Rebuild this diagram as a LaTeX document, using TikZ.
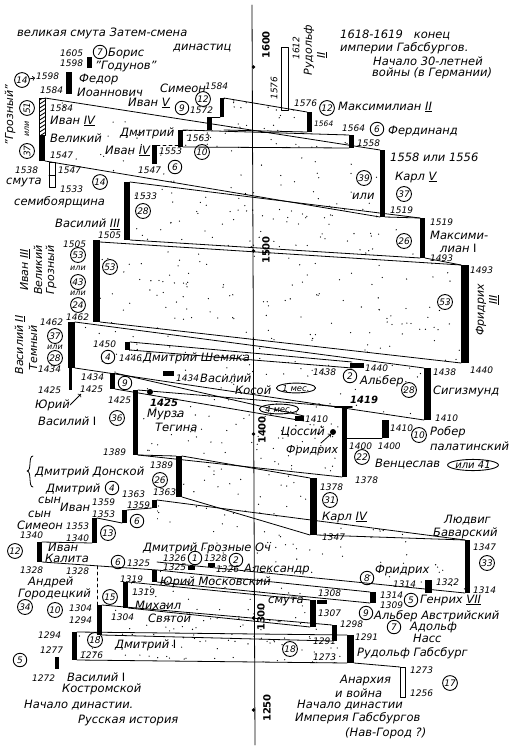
\documentclass[tikz,border=0pt]{standalone}
\usepackage{fontspec}
\setmainfont{DejaVu Sans}
\usetikzlibrary{shapes.geometric}

% band between a Russian reign (left) and a Habsburg reign (right), stippled
\newcommand{\band}[7]{%
  \draw[edge] (#1,#2) -- (#4,#5) (#1,#3) -- (#4,#6);
  \begin{scope}
    \clip (#1,#2) -- (#4,#5) -- (#4,#6) -- (#1,#3) -- cycle;
    \foreach \k in {1,...,#7}{
      \pgfmathsetmacro{\stx}{#1+rnd*(#4-#1)}
      \pgfmathsetmacro{\sty}{min(#2,#5)+rnd*(max(#3,#6)-min(#2,#5))}
      \fill (\stx,\sty) circle (0.65);
    }
  \end{scope}}

\tikzset{
  lbl/.style={anchor=west, inner sep=0pt, font=\fontsize{11.5}{11.5}\selectfont\itshape},
  yr/.style={anchor=west, inner sep=0pt, font=\fontsize{9}{9}\selectfont\itshape},
  num/.style={circle, draw, line width=0.9pt, inner sep=0.6pt, minimum size=13.5pt, font=\fontsize{9}{9}\selectfont\itshape},
  oval/.style={ellipse, draw, line width=0.9pt, inner sep=0.3pt, font=\fontsize{8.5}{8.5}\selectfont\itshape},
  edge/.style={line width=0.8pt},
  axisyr/.style={rotate=90, inner sep=0pt, font=\fontsize{10}{10}\selectfont\bfseries},
  vlbl/.style={rotate=90, inner sep=0pt, font=\fontsize{11}{11}\selectfont\itshape},
  small/.style={inner sep=0pt, font=\fontsize{8}{8}\selectfont\itshape},
}

\begin{document}
\begin{tikzpicture}[x=1pt, y=-1pt, line cap=round, line join=round]
\useasboundingbox (0,0) rectangle (514,750);
\pgfmathsetseed{17}

% time axis
\draw[line width=0.8pt] (252,5) -- (255,745);
\foreach \ty in {67,251,434,618,710} \fill (253.5,\ty) circle (1.8);
\node[axisyr] (y1600) at (266,45) {1600};
\node[axisyr] (y1500) at (266,250) {1500};
\node[axisyr] (y1400) at (262,430) {1400};
\node[axisyr] (y1300) at (261,617) {1300};
\node[axisyr] (y1250) at (267,708) {1250};

% ---------- bands ----------
\band{224}{98}{130}{307}{112}{132}{25}
\band{183}{130}{147}{349}{135}{148}{20}
\band{45}{98}{161}{380}{150}{217}{120}
\band{130}{182}{240}{420}{218}{258}{110}
\band{100}{242}{322}{461}{265}{363}{150}
\band{75}{322}{368}{424}{368}{420}{110}
\band{130}{342}{350}{352}{362}{368}{20}
\band{115}{373}{389}{304}{416}{421}{25}
\band{138}{390}{455}{342}{407}{477}{90}
\band{182}{456}{497}{310}{478}{535}{50}
\band{157}{500}{562}{465}{540}{593}{110}
\band{157}{570}{582}{370}{592}{603}{30}
\band{128}{582}{608}{310}{600}{627}{40}
\band{102}{605}{635}{332}{625}{641}{40}
\band{77}{632}{660}{347}{635}{663}{60}
\draw[edge] (354,663) -- (400,667);
\draw[edge] (317,535) -- (465,540);
\draw[edge] (42,562) -- (157,570);

% step connectors
\draw[edge] (212,117) -- (220,117);
\draw[edge, dashed] (183,130) -- (207,130);
\draw[edge, dashed] (157,145) -- (178,145);
\draw[edge] (127,510) -- (152,508);
\draw[edge] (97,518) -- (122,523);
\draw[edge] (42,542) -- (92,543);
\draw[edge] (138,455) -- (176,456);
\draw[edge, dashed] (97,566) -- (97,605);

% ---------- Russian bars ----------
\fill (87,57) rectangle (92,68);
\fill (66,72) rectangle (72,94);
\fill (220,98) rectangle (224,117);
\fill (207,117) rectangle (212,130);
\fill (178,130) rectangle (183,147);
\fill (152,145) rectangle (157,164);
\begin{scope}
  \clip (39,98) rectangle (45,135);
  \foreach \h in {96,100,...,136} \draw[line width=0.9pt] (38,\h+5) -- (46,\h);
\end{scope}
\draw[edge] (39,98) rectangle (45,135);
\fill (39,135) rectangle (45,161);
\draw[edge] (49,162) rectangle (55,187) (49,175) -- (55,175);
\fill (124,182) rectangle (130,240);
\fill (93,240) rectangle (100,322);
\fill (68,322) rectangle (75,368);
\fill (69,368) rectangle (72,390);
\fill (125,342) rectangle (130,350);
\fill (163,371) rectangle (174,376);
\fill (110,373) rectangle (115,389);
\fill (133,390) rectangle (138,455);
\fill (150,392) circle (3);
\fill (176,456) rectangle (182,497);
\fill (152,500) rectangle (157,508);
\fill (122,510) rectangle (127,523);
\fill (92,518) rectangle (97,543);
\fill (37,542) rectangle (42,562);
\fill (188,566) rectangle (195,570);
\fill (208,563) rectangle (215,567);
\fill (152,570) rectangle (157,582);
\fill (123,582) rectangle (128,608);
\fill (97,605) rectangle (102,635);
\fill (72,632) rectangle (77,660);
\fill (55,657) rectangle (59,669);

% ---------- Habsburg bars ----------
\draw[edge] (281,47) rectangle (288,110);
\fill (307,112) rectangle (312,132);
\fill (349,135) rectangle (354,148);
\fill (380,150) rectangle (385,217);
\draw[edge] (385,217) -- (420,218);
\fill (420,218) rectangle (425,258);
\draw[edge] (425,258) -- (461,265);
\fill (461,265) rectangle (469,363);
\fill (424,368) rectangle (431,420);
\fill (350,363) rectangle (364,368);
\fill (382,420) rectangle (389,438);
\draw[edge] (347,438) -- (382,438);
\fill (295,416) rectangle (304,421);
\draw[line width=1.8pt] (335,407) -- (352,407);
\fill (342,407) rectangle (347,477);
\fill (333,432) circle (3);
\fill (310,478) rectangle (317,535);
\fill (465,540) rectangle (470,593);
\fill (425,580) rectangle (432,593);
\fill (370,592) rectangle (376,603);
\fill (317,600) rectangle (327,604);
\fill (310,600) rectangle (316,627);
\fill (332,625) rectangle (337,641);
\fill (347,635) rectangle (354,663);
\draw[edge] (400,667) rectangle (405,697);

% ---------- Russian labels ----------
\node[lbl] (tsmuta) at (17,33) {великая смута Затем-смена};
\node[lbl] (tdyn) at (173,48) {династиц};
\node[yr] at (60,53) {1605};
\node[num] (n7a) at (100,52) {7};
\node[lbl] at (108,54) {Борис};
\node[lbl] at (95,67) {"Годунов"};
\node[yr] at (60,63) {1598};
\node[num] (n14a) at (22,80) {14};
\draw[->, edge] (n14a) -- (35,78);
\node[yr] at (36,76) {1598};
\node[yr] at (40,90) {1584};
\node[lbl] at (79,80) {Федор};
\node[lbl] at (77,92) {Иоаннович};
\node[lbl] at (160,88) {Симеон};
\node[yr] at (205,86) {1584};
\node[num] at (203,99) {12};
\node[lbl] at (128,103) {Иван \underline{V}};
\node[num] at (182,108) {9};
\node[yr] at (190,110) {1572};
\node[vlbl] at (10,115) {"Грозный"};
\node[num, rotate=90] at (27,108) {51};
\node[vlbl, font=\fontsize{8}{8}\selectfont\itshape] at (27,129) {или};
\node[num, rotate=90] at (27,151) {37};
\node[yr] at (50,108) {1584};
\node[lbl] at (50,121) {Иван \underline{IV}};
\node[lbl] at (50,138) {Великий};
\node[yr] at (50,155) {1547};
\node[lbl] at (120,133) {Дмитрий};
\node[yr] at (187,138) {1563};
\node[num] at (202,152) {10};
\node[lbl] at (105,151) {Иван \underline{IV}};
\node[yr] at (159,151) {1553};
\node[num] at (175,167) {6};
\node[yr] at (138,170) {1547};
\node[yr] at (15,170) {1538};
\node[lbl] at (6,182) {смута};
\node[yr] at (58,170) {1547};
\node[yr] at (60,189) {1533};
\node[num] at (100,182) {14};
\node[lbl] at (14,202) {семибоярщина};
\node[yr] at (134,196) {1533};
\node[num] at (143,211) {28};
\node[lbl] at (55,224) {Василий \underline{III}};
\node[yr] at (98,235) {1505};
\node[yr] at (63,244) {1505};
\node[vlbl] at (25,270) {Иван \underline{III}};
\node[vlbl] at (38,270) {Великий};
\node[vlbl] at (51,270) {Грозный};
\node[num] at (78,255) {53};
\node[small] at (78,268) {или};
\node[num] at (78,282) {43};
\node[small] at (78,293) {или};
\node[num] at (78,305) {24};
\node[yr] at (66,317) {1462};
\node[num] at (110,267) {53};
\node[yr] at (40,322) {1462};
\node[num] at (55,336) {37};
\node[small] at (55,347) {или};
\node[num] at (55,358) {28};
\node[yr] at (38,369) {1434};
\node[yr] at (38,390) {1425};
\node[vlbl] at (20,345) {Василий \underline{II}};
\node[vlbl] at (33,348) {Темный};
\node[yr] at (93,344) {1450};
\node[num] at (108,357) {4};
\node[yr] at (119,358) {1446};
\node[lbl] at (143,358) {Дмитрий Шемяка};
\node[yr] at (176,378) {1434};
\node[lbl] at (200,378) {Василий};
\node[lbl] at (235,390) {Косой};
\node[oval] at (296,388) {1 мес.};
\node[yr] at (81,377) {1434};
\node[yr] at (80,389) {1425};
\node[num] at (125,383) {9};
\node[lbl] (tyuri) at (35,405) {Юрий};
\draw[->, edge] (tyuri.east) -- (81,394);
\node[yr] at (108,400) {1425};
\node[num] at (117,418) {36};
\node[lbl] at (38,421) {Василий \textup{I}};
\node[yr] at (103,452) {1389};
\node[yr, font=\fontsize{10}{10}\selectfont\bfseries\itshape] at (150,403) {1425};
\node[lbl] at (147,414) {Мурза};
\node[lbl] at (155,427) {Тегина};
\node[yr] at (150,465) {1389};
\node[num] at (160,480) {26};
\node[yr] at (153,492) {1363};
\draw[edge] (33,456) .. controls (28,456) and (32,471) .. (27,471) .. controls (32,471) and (28,487) .. (33,487);
\node[lbl] at (35,472) {Дмитрий Донской};
\node[lbl] at (46,489) {Дмитрий};
\node[num] at (112,488) {4};
\node[yr] at (122,494) {1363};
\node[lbl] at (38,500) {сын};
\node[lbl] at (60,507) {Иван};
\node[yr] at (92,502) {1359};
\node[yr] at (127,505) {1359};
\node[yr] at (92,514) {1353};
\node[num] at (137,521) {6};
\node[lbl] at (28,514) {сын};
\node[lbl] at (17,525) {Симеон};
\node[yr] at (66,526) {1353};
\node[yr] at (66,538) {1340};
\node[num] at (108,533) {13};
\node[yr] at (20,535) {1340};
\node[num] at (15,551) {12};
\node[lbl] at (48,547) {Иван};
\node[lbl] at (45,558) {Калита};
\node[yr] at (20,570) {1328};
\node[yr] at (66,571) {1328};
\node[num] at (118,562) {6};
\node[yr] at (127,563) {1325};
\node[lbl] at (143,548) {Дмитрий Грозные Оч};
\node[yr] at (163,558) {1326};
\node[num] at (195,558) {1};
\node[yr] at (204,558) {1328};
\node[num] at (236,560) {2};
\node[yr] at (163,567) {1325};
\node[yr] at (216,569) {1326};
\node[lbl] at (244,569) {Александр};
\node[yr] at (120,579) {1319};
\node[lbl] at (160,582) {Юрий Московский};
\node[num] at (110,597) {15};
\node[yr] at (132,592) {1319};
\node[lbl] at (135,605) {Михаил};
\node[yr] at (111,617) {1304};
\node[lbl] at (148,618) {Святой};
\node[lbl] at (28,582) {Андрей};
\node[lbl] at (18,594) {Городецкий};
\node[num] at (25,607) {34};
\node[num] at (55,610) {10};
\node[yr] at (69,608) {1304};
\node[yr] at (69,620) {1294};
\node[yr] at (38,635) {1294};
\node[num] at (95,640) {18};
\node[lbl] at (115,645) {Дмитрий \textup{I}};
\node[yr] at (40,650) {1277};
\node[yr] at (80,655) {1276};
\node[num] at (20,660) {5};
\node[yr] at (32,678) {1272};
\node[lbl] at (67,677) {Василий \textup{I}};
\node[lbl] at (62,689) {Костромской};
\node[lbl] at (24,705) {Начало династии.};
\node[lbl] at (78,720) {Русская история};

% ---------- Habsburg labels ----------
\node[vlbl, font=\fontsize{9}{9}\selectfont\itshape] at (274,88) {1576};
\node[vlbl, font=\fontsize{9}{9}\selectfont\itshape] at (296,48) {1612};
\node[vlbl] at (309,50) {Рудольф};
\node[vlbl] at (322,55) {\underline{II}};
\node[lbl] at (340,35) {1618-1619 \ \ конец};
\node[lbl] at (340,48) {империи Габсбургов.};
\node[lbl] at (373,61) {Начало 30-летней};
\node[lbl] at (372,73) {войны (в Германии)};
\node[yr] at (294,103) {1576};
\node[num] at (327,108) {12};
\node[lbl] at (338,107) {Максимилиан \underline{II}};
\node[yr, font=\fontsize{7.5}{7.5}\selectfont\itshape] at (314,124) {1564};
\node[yr] at (342,128) {1564};
\node[num] at (377,129) {6};
\node[lbl] at (388,132) {Фердинанд};
\node[yr] at (357,143) {1558};
\node[lbl] at (390,157) {1558 или 1556};
\node[lbl] at (395,177) {Карл \underline{V}};
\node[num] at (404,194) {37};
\node[yr] at (390,210) {1519};
\node[num] at (364,178) {39};
\node[lbl] at (352,196) {или};
\node[yr] at (430,222) {1519};
\node[num] at (404,241) {26};
\node[lbl] at (430,235) {Максими-};
\node[lbl] at (440,248) {лиан \textup{I}};
\node[yr] at (430,258) {1493};
\node[yr] at (470,270) {1493};
\node[num] at (445,302) {53};
\node[vlbl] at (481,310) {Фридрих};
\node[vlbl] at (494,300) {\underline{III}};
\node[yr] at (470,370) {1440};
\node[yr] at (433,372) {1438};
\node[lbl] at (433,391) {Сигизмунд};
\node[num] at (409,390) {28};
\node[yr] at (435,418) {1410};
\node[yr] at (313,372) {1438};
\node[num] at (350,376) {2};
\node[yr] at (365,368) {1440};
\node[lbl] at (360,381) {Альбер};
\node[oval] at (279,409) {4 мес.};
\node[yr] at (305,419) {1410};
\node[lbl] at (281,432) {Цоссий};
\node[lbl, font=\fontsize{11}{11}\selectfont\itshape] (tfried) at (286,451) {Фридрих};
\draw[->, edge] (321,443) -- (331,434);
\node[yr, font=\fontsize{10}{10}\selectfont\bfseries\itshape] at (350,400) {1419};
\node[yr] at (390,428) {1410};
\node[num] at (419,435) {10};
\node[lbl] at (430,432) {Робер};
\node[lbl] at (430,446) {палатинский};
\node[yr] at (349,446) {1400 \ 1400};
\node[num] at (362,457) {22};
\node[lbl] at (375,464) {Венцеслав};
\node[oval, font=\fontsize{10}{10}\selectfont\itshape] at (473,465) {или 41};
\node[yr] at (355,480) {1378};
\node[yr] at (320,487) {1378};
\node[num] at (330,500) {31};
\node[lbl] at (322,517) {Карл \underline{IV}};
\node[yr] at (322,537) {1347};
\node[lbl] at (444,520) {Людвиг};
\node[lbl] at (433,533) {Баварский};
\node[yr] at (473,547) {1347};
\node[num] at (487,563) {33};
\node[yr] at (473,590) {1314};
\node[num] at (367,578) {8};
\node[lbl] at (375,570) {Фридрих};
\node[yr] at (393,584) {1314};
\node[yr] at (436,582) {1322};
\node[yr] at (380,595) {1314};
\node[yr] at (380,605) {1309};
\node[num] at (411,600) {5};
\node[lbl] at (420,600) {Генрих \underline{VII}};
\node[lbl] at (268,601) {смута};
\node[yr] at (318,593) {1308};
\node[yr] at (318,613) {1307};
\node[num] at (366,613) {9};
\node[lbl] at (374,616) {Альбер Австрийский};
\node[yr] at (340,624) {1298};
\node[num] at (394,627) {7};
\node[lbl] at (410,627) {Адольф};
\node[lbl] at (413,638) {Насс};
\node[yr] at (355,637) {1291};
\node[num] at (290,649) {18};
\node[yr] at (313,641) {1291};
\node[yr] at (313,657) {1273};
\node[lbl] at (357,653) {Рудольф Габсбург};
\node[yr] at (410,670) {1273};
\node[yr] at (410,693) {1256};
\node[num] at (450,683) {17};
\node[lbl] at (340,680) {Анархия};
\node[lbl] at (335,693) {и война};
\node[lbl] at (297,705) {Начало династии};
\node[lbl] at (295,718) {Империя Габсбургов};
\node[lbl] at (345,733) {(Нав-Город ?)};
\end{tikzpicture}
\end{document}
